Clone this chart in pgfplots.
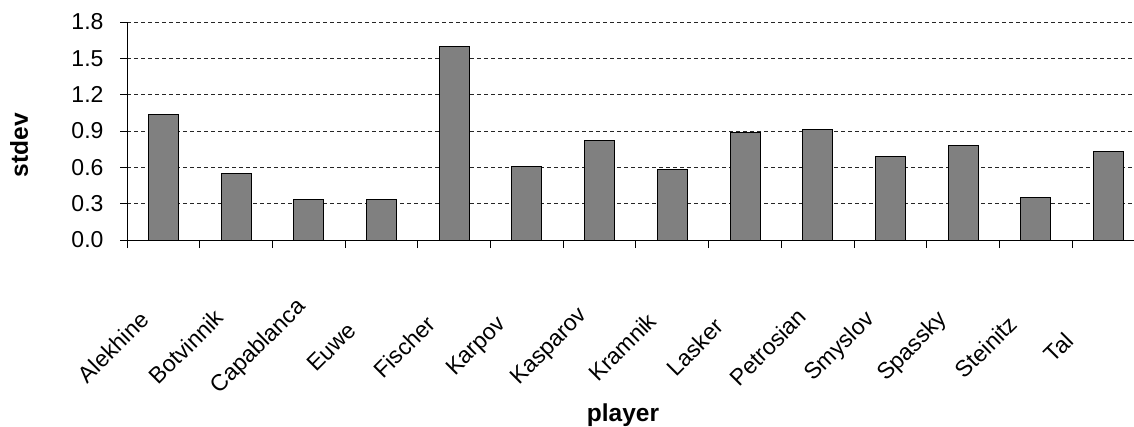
\documentclass[border=0pt]{standalone}
\usepackage{fontspec}
\setmainfont{Liberation Sans}
\usepackage{pgfplots}
\pgfplotsset{compat=1.18}
\begin{document}
\begin{tikzpicture}
\useasboundingbox (0,0) rectangle (1134pt,-426pt);
\begin{axis}[
  at={(127pt,-240pt)}, anchor=south west,
  scale only axis, width=1007pt, height=218pt,
  xmin=-0.5, xmax=13.35, ymin=0, ymax=1.8,
  axis x line*=bottom, axis y line*=left,
  axis line style={black, line width=1pt, -},
  ytick={0,0.3,0.6,0.9,1.2,1.5,1.8},
  /pgf/number format/assume math mode=true,
  yticklabel style={/pgf/number format/fixed, /pgf/number format/fixed zerofill, /pgf/number format/precision=1},
  xtick={0,...,13},
  xticklabels={Alekhine,Botvinnik,Capablanca,Euwe,Fischer,Karpov,Kasparov,Kramnik,Lasker,Petrosian,Smyslov,Spassky,Steinitz,Tal},
  every major x tick/.append style={draw=none},
  minor xtick={-0.5,0.5,...,12.5},
  tick align=outside,
  major tick length=7pt, minor tick length=8pt,
  tick style={black, line width=1pt},
  ymajorgrids,
  major grid style={black!85, line width=1pt, dash pattern=on 4pt off 3pt},
  ticklabel style={font=\fontsize{23}{27}\selectfont},
  yticklabel style={anchor=east, xshift=-13pt},
  xticklabel style={xshift=-50pt, yshift=-100pt, rotate=45, anchor=center},
  xlabel={player}, ylabel={stdev},
  every axis x label/.style={at={(axis description cs:0.5,0)}, anchor=center, xshift=-7.5pt, yshift=-175pt, font=\bfseries\fontsize{24.5}{28}\selectfont},
  every axis y label/.style={at={(axis description cs:0,0.5)}, xshift=-108pt, yshift=-14pt, rotate=90, anchor=center, font=\bfseries\fontsize{24.5}{28}\selectfont},
  clip=false,
]
\addplot[ybar, bar width=30pt, fill=black!50, draw=black, line width=1pt] coordinates {
  (0,1.04) (1,0.55) (2,0.335) (3,0.335) (4,1.60) (5,0.61) (6,0.82)
  (7,0.58) (8,0.89) (9,0.915) (10,0.69) (11,0.78) (12,0.35) (13,0.73)
};
\end{axis}
\end{tikzpicture}
\end{document}
